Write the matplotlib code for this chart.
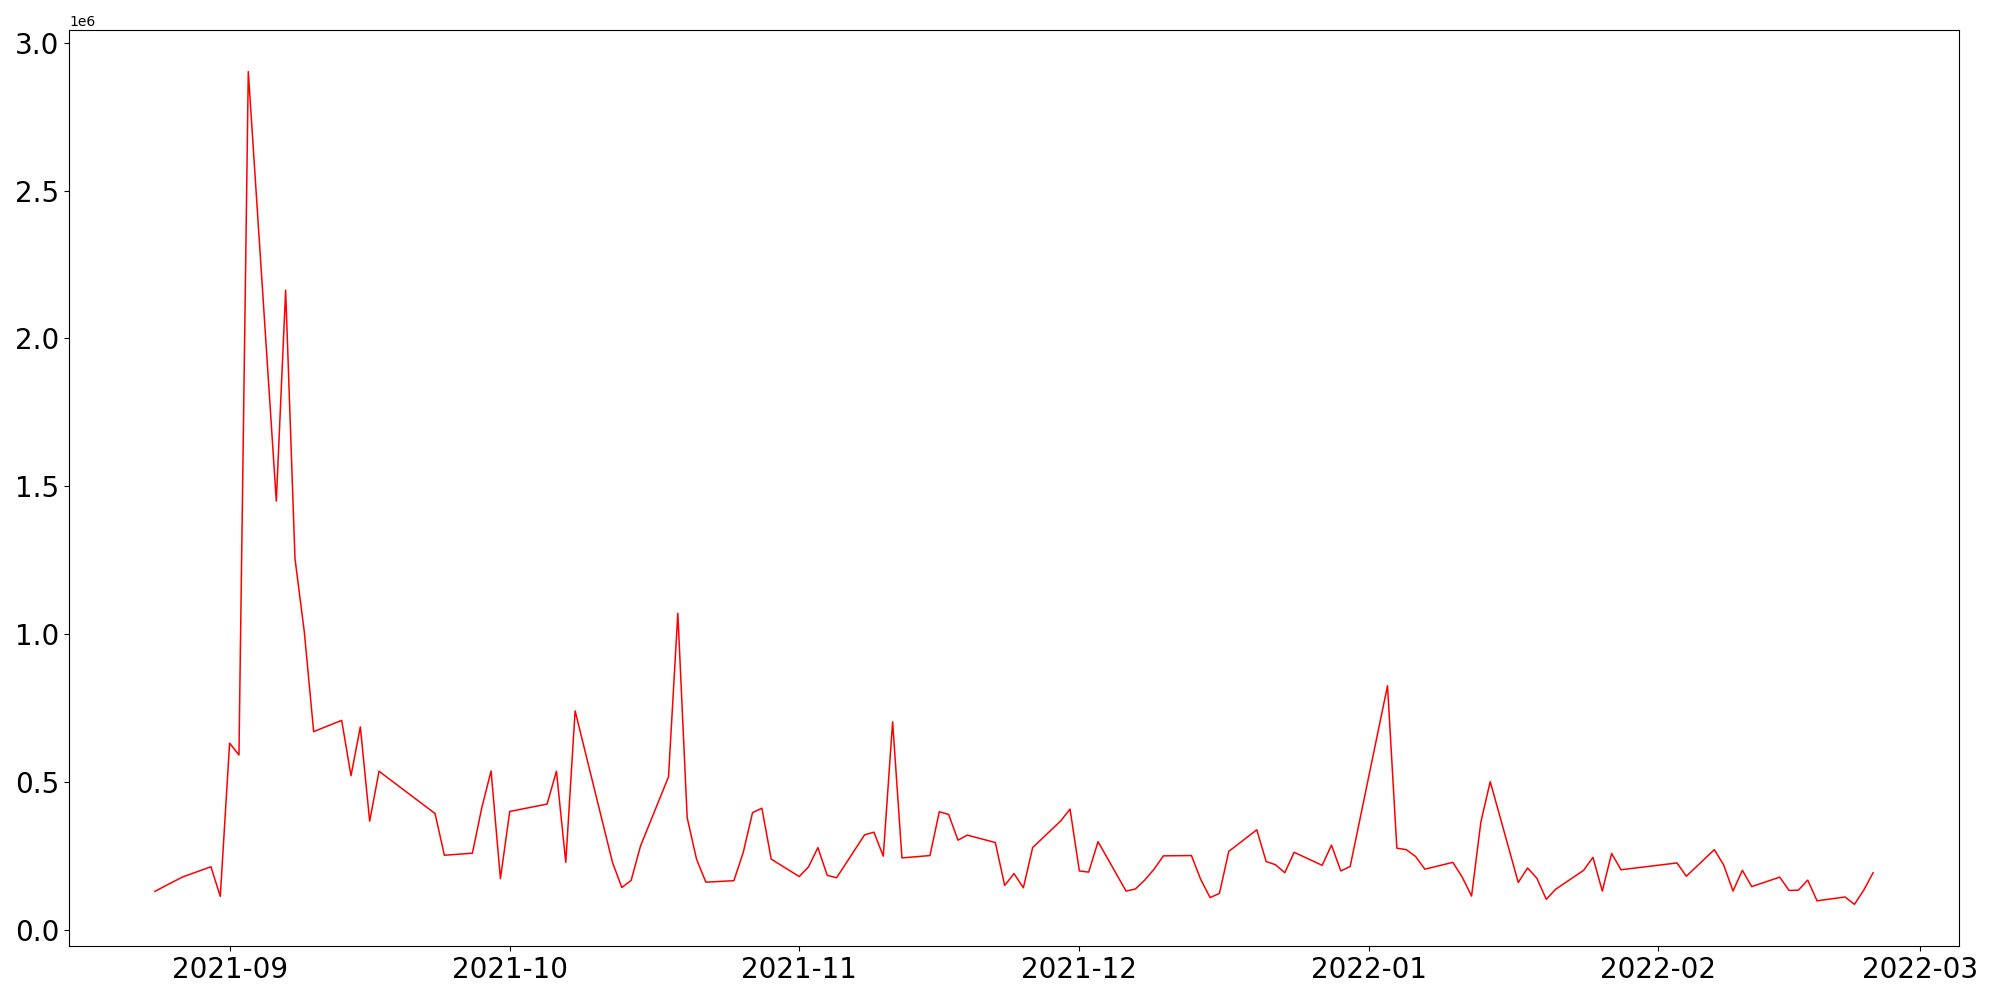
import matplotlib
matplotlib.use("Agg")
import matplotlib.pyplot as plt
import pandas as pd

dates = [
    "2021-08-24", "2021-08-26", "2021-08-27", "2021-08-30", "2021-08-31",
    "2021-09-01", "2021-09-02", "2021-09-03", "2021-09-06", "2021-09-07",
    "2021-09-08", "2021-09-09", "2021-09-10", "2021-09-13", "2021-09-14",
    "2021-09-15", "2021-09-16", "2021-09-17", "2021-09-23", "2021-09-24",
    "2021-09-27", "2021-09-28", "2021-09-29", "2021-09-30", "2021-10-01",
    "2021-10-05", "2021-10-06", "2021-10-07", "2021-10-08", "2021-10-12",
    "2021-10-13", "2021-10-14", "2021-10-15", "2021-10-18", "2021-10-19",
    "2021-10-20", "2021-10-21", "2021-10-22", "2021-10-25", "2021-10-26",
    "2021-10-27", "2021-10-28", "2021-10-29", "2021-11-01", "2021-11-02",
    "2021-11-03", "2021-11-04", "2021-11-05", "2021-11-08", "2021-11-09",
    "2021-11-10", "2021-11-11", "2021-11-12", "2021-11-15", "2021-11-16",
    "2021-11-17", "2021-11-18", "2021-11-19", "2021-11-22", "2021-11-23",
    "2021-11-24", "2021-11-25", "2021-11-26", "2021-11-29", "2021-11-30",
    "2021-12-01", "2021-12-02", "2021-12-03", "2021-12-06", "2021-12-07",
    "2021-12-08", "2021-12-09", "2021-12-10", "2021-12-13", "2021-12-14",
    "2021-12-15", "2021-12-16", "2021-12-17", "2021-12-20", "2021-12-21",
    "2021-12-22", "2021-12-23", "2021-12-24", "2021-12-27", "2021-12-28",
    "2021-12-29", "2021-12-30", "2022-01-03", "2022-01-04", "2022-01-05",
    "2022-01-06", "2022-01-07", "2022-01-10", "2022-01-11", "2022-01-12",
    "2022-01-13", "2022-01-14", "2022-01-17", "2022-01-18", "2022-01-19",
    "2022-01-20", "2022-01-21", "2022-01-24", "2022-01-25", "2022-01-26",
    "2022-01-27", "2022-01-28", "2022-02-03", "2022-02-04", "2022-02-07",
    "2022-02-08", "2022-02-09", "2022-02-10", "2022-02-11", "2022-02-14",
    "2022-02-15", "2022-02-16", "2022-02-17", "2022-02-18", "2022-02-21",
    "2022-02-22", "2022-02-23", "2022-02-24",
]

# values in millions
volume = [
    0.131, 0.164, 0.180, 0.214, 0.114,
    0.632, 0.592, 2.902, 1.450, 2.163,
    1.256, 1.008, 0.671, 0.709, 0.522,
    0.687, 0.368, 0.537, 0.394, 0.253,
    0.260, 0.413, 0.538, 0.174, 0.401,
    0.426, 0.537, 0.229, 0.741, 0.229,
    0.144, 0.168, 0.284, 0.518, 1.071,
    0.380, 0.240, 0.162, 0.167, 0.262,
    0.397, 0.412, 0.240, 0.181, 0.214,
    0.279, 0.185, 0.177, 0.322, 0.331,
    0.250, 0.704, 0.244, 0.252, 0.400,
    0.391, 0.304, 0.321, 0.296, 0.151,
    0.191, 0.143, 0.279, 0.369, 0.409,
    0.200, 0.196, 0.299, 0.132, 0.139,
    0.169, 0.206, 0.251, 0.252, 0.171,
    0.110, 0.124, 0.266, 0.339, 0.232,
    0.221, 0.194, 0.263, 0.219, 0.287,
    0.200, 0.215, 0.826, 0.277, 0.272,
    0.249, 0.206, 0.229, 0.179, 0.115,
    0.366, 0.502, 0.161, 0.210, 0.175,
    0.104, 0.138, 0.202, 0.246, 0.132,
    0.259, 0.204, 0.227, 0.182, 0.272,
    0.220, 0.132, 0.202, 0.147, 0.179,
    0.134, 0.135, 0.169, 0.099, 0.112,
    0.087, 0.135, 0.194,
]

x = pd.to_datetime(dates)
y = [v * 1e6 for v in volume]

fig, ax = plt.subplots(figsize=(20, 10), dpi=100)
ax.plot(x, y, color="red", linewidth=1.1)
ax.tick_params(axis="both", labelsize=20)
fig.subplots_adjust(left=0.0345, right=0.9795, bottom=0.054, top=0.97)
fig.savefig("out.png", dpi=100)
plt.close(fig)
